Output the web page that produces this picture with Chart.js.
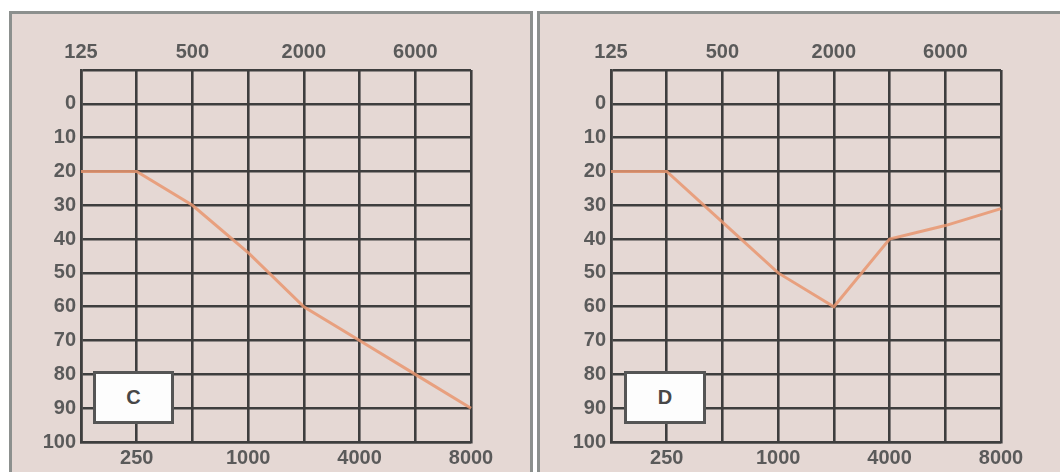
<!DOCTYPE html>
<html>
<head>
<meta charset="utf-8">
<script src="https://cdn.jsdelivr.net/npm/chart.js@4.4.1/dist/chart.umd.min.js"></script>
<style>
  html, body { margin: 0; padding: 0; background: #ffffff; }
  body { width: 1060px; height: 472px; position: relative; overflow: hidden; font-family: "Liberation Sans", Arial, sans-serif; }
  .panel { position: absolute; box-sizing: border-box; border: 3px solid #8c908e; background: rgb(229,216,212); }
  .wrap { position: absolute; top: 0; width: 530px; height: 472px; }
  .tag { position: absolute; box-sizing: border-box; border: 3px solid #555; background: #fdfdfd;
         font: bold 20px "Liberation Sans", Arial, sans-serif; color: #474747;
         display: flex; align-items: center; justify-content: center; }
</style>
</head>
<body>
<div class="panel" style="left:9px; top:11px; width:524px; height:480px;"></div>
<div class="panel" style="left:537px; top:11px; width:540px; height:480px;"></div>
<div class="wrap" style="left:0px;"><canvas id="chartC" width="530" height="472"></canvas></div>
<div class="wrap" style="left:530px;"><canvas id="chartD" width="530" height="472"></canvas></div>
<div class="tag" style="left:93px; top:371px; width:81px; height:53px;">C</div>
<div class="tag" style="left:624px; top:371px; width:82px; height:53px;">D</div>
<script>
// ---- data ----
const frequencies = ['125', '250', '500', '1000', '2000', '4000', '6000', '8000'];
const topTickLabels = ['125', '', '500', '', '2000', '', '6000', ''];
const bottomTickLabels = ['', '250', '', '1000', '', '4000', '', '8000'];
const levelMin = -10;
const levelMax = 100;
const levelStep = 10;
const panelC = 'C';
const panelD = 'D';
const thresholdsC = [20, 20, 30, 44, 60, 70, 80, 90];
const thresholdsD = [20, 20, 35, 50, 60, 40, 36, 31];

// ---- styling ----
const gridColor = '#3e3e3e';
const gridWidth = 2.6;
const tickFont = { family: '"Liberation Sans", Arial, sans-serif', size: 20, weight: 'bold' };
const tickColor = '#5a5a5a';
const lineColor = 'rgba(233,150,112,0.85)';

function makeChart(id, values, label) {
  return new Chart(document.getElementById(id), {
    type: 'line',
    data: {
      labels: frequencies,
      datasets: [{
        label: label,
        data: values,
        borderColor: lineColor,
        borderWidth: 3,
        pointRadius: 0,
        tension: 0,
        fill: false
      }]
    },
    options: {
      responsive: false,
      animation: false,
      events: [],
      layout: { padding: { left: 31, right: 59, top: 42, bottom: 4 } },
      plugins: { legend: { display: false }, tooltip: { enabled: false }, title: { display: false } },
      scales: {
        x: {
          type: 'category',
          position: 'bottom',
          offset: false,
          grid: { color: gridColor, lineWidth: gridWidth, drawTicks: false, offset: false },
          border: { display: true, color: gridColor, width: gridWidth },
          ticks: {
            autoSkip: false, maxRotation: 0, minRotation: 0, padding: 4,
            font: tickFont, color: tickColor,
            callback: (v, i) => bottomTickLabels[i]
          },
          afterFit: (s) => { s.height = 26; }
        },
        xTop: {
          type: 'category',
          position: 'top',
          offset: false,
          grid: { display: false, drawTicks: false },
          border: { display: false },
          ticks: {
            autoSkip: false, maxRotation: 0, minRotation: 0, padding: 6,
            font: tickFont, color: tickColor,
            callback: (v, i) => topTickLabels[i]
          },
          afterFit: (s) => { s.height = 28; }
        },
        y: {
          type: 'linear',
          reverse: true,
          min: levelMin,
          max: levelMax,
          grid: { color: gridColor, lineWidth: gridWidth, drawTicks: false },
          border: { display: true, color: gridColor, width: gridWidth },
          ticks: {
            stepSize: levelStep, padding: 5,
            font: tickFont, color: tickColor,
            callback: (v) => (v === levelMin ? '' : String(v))
          },
          afterFit: (s) => { s.width = 50; }
        }
      }
    }
  });
}

makeChart('chartC', thresholdsC, panelC);
makeChart('chartD', thresholdsD, panelD);
</script>
</body>
</html>
